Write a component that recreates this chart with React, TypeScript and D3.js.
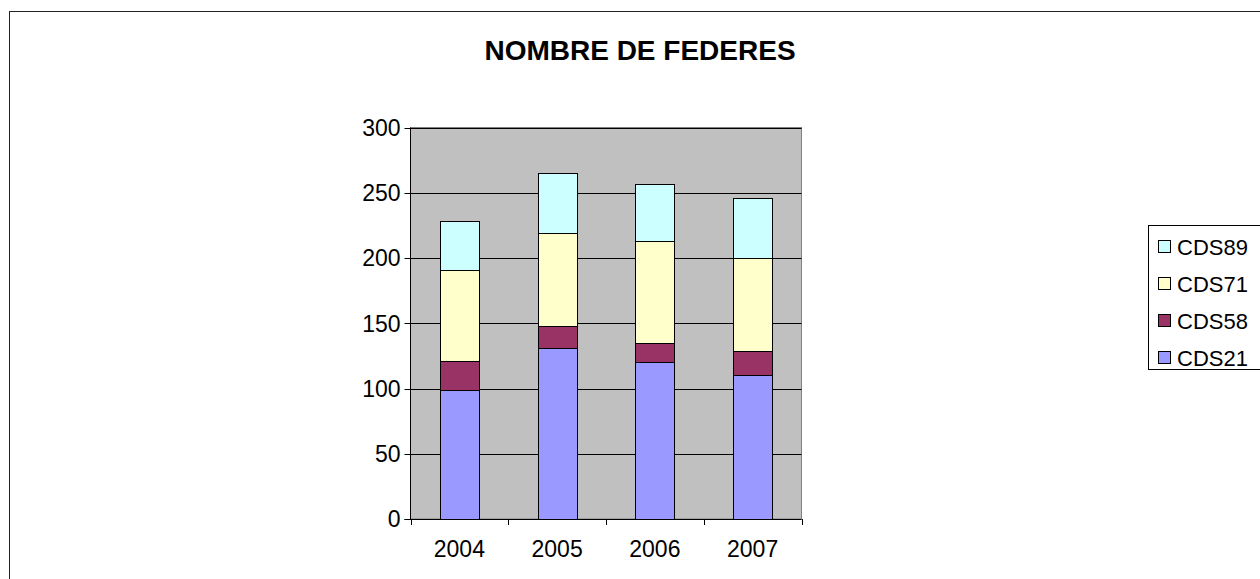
import React from "react";
import * as d3 from "d3";

const years = ["2004", "2005", "2006", "2007"];
const seriesNames = ["CDS21", "CDS58", "CDS71", "CDS89"];
const cds21 = [99, 131, 120, 110];
const cds58 = [22, 17, 15, 19];
const cds71 = [70, 71, 78, 71];
const cds89 = [37, 46, 44, 46];
const yTicks = [0, 50, 100, 150, 200, 250, 300];
const colors = ["#9999FF", "#993366", "#FFFFCC", "#CCFFFF"];
const title = "NOMBRE DE FEDERES";

export default function App() {
  const W = 1260, H = 579;
  const left = 410.5, right = 801.5, top = 127.5, bottom = 519;
  const font = "Arial, 'Liberation Sans', sans-serif";

  const rows = years.map((y, i) => ({
    year: y,
    CDS21: cds21[i],
    CDS58: cds58[i],
    CDS71: cds71[i],
    CDS89: cds89[i],
  }));
  const stack = d3.stack<any>().keys(seriesNames)(rows);

  const x = d3.scaleBand().domain(years).range([left, right]).paddingInner(0.6).paddingOuter(0.3);
  const xb = d3.scaleBand().domain(years).range([left, right]);
  const y = d3.scaleLinear().domain([0, 300]).range([bottom, top]);

  const legendOrder = [...seriesNames].reverse();

  return (
    <svg width={W} height={H} style={{ position: "absolute", left: 0, top: 0, background: "#fff" }}>
      <rect x={9.5} y={11.5} width={W} height={H} fill="#fff" stroke="#222" strokeWidth={1} />
      <text x={640} y={60} textAnchor="middle" fontFamily={font} fontWeight="bold" fontSize={28}>
        {title}
      </text>
      {/* plot area */}
      <rect x={left} y={top} width={right - left} height={bottom - top} fill="#C0C0C0" stroke="#808080" strokeWidth={1} />
      {yTicks.filter((t) => t > 0).map((t) => (
        <line key={t} x1={left} x2={right} y1={Math.round(y(t)) + 0.5} y2={Math.round(y(t)) + 0.5} stroke="#000" strokeWidth={1} />
      ))}
      {/* bars */}
      {stack.map((s, si) =>
        s.map((d, i) => (
          <rect
            key={si + "-" + i}
            x={Math.round(x(years[i])!) + 0.5}
            y={Math.round(y(d[1])) + 0.5}
            width={Math.round(x.bandwidth())}
            height={Math.round(y(d[0])) - Math.round(y(d[1]))}
            fill={colors[si]}
            stroke="#000"
            strokeWidth={1}
          />
        ))
      )}
      {/* axes */}
      <line x1={left} x2={left} y1={top} y2={bottom} stroke="#000" />
      <line x1={left - 6} x2={right} y1={bottom + 0.5} y2={bottom + 0.5} stroke="#000" />
      {yTicks.map((t) => (
        <g key={t}>
          <line x1={left - 6} x2={left} y1={Math.round(y(t)) + 0.5} y2={Math.round(y(t)) + 0.5} stroke="#000" />
          <text x={left - 10} y={y(t)} dy="0.36em" textAnchor="end" fontFamily={font} fontSize={23}>
            {t}
          </text>
        </g>
      ))}
      {[...years.map((yr) => xb(yr)!), right].map((v, i) => (
        <line key={i} x1={Math.round(v) + 0.5} x2={Math.round(v) + 0.5} y1={bottom} y2={bottom + 6} stroke="#000" />
      ))}
      {years.map((yr) => (
        <text key={yr} x={xb(yr)! + xb.bandwidth() / 2} y={557} textAnchor="middle" fontFamily={font} fontSize={23}>
          {yr}
        </text>
      ))}
      {/* legend */}
      <rect x={1148.5} y={225.5} width={130} height={144} fill="#fff" stroke="#000" />
      {legendOrder.map((name, i) => {
        const cy = 247 + i * 37;
        const ci = seriesNames.indexOf(name);
        return (
          <g key={name}>
            <rect x={1158.5} y={cy - 6.5} width={12} height={12} fill={colors[ci]} stroke="#000" />
            <text x={1177} y={cy} dy="0.36em" fontFamily={font} fontSize={22}>
              {name}
            </text>
          </g>
        );
      })}
    </svg>
  );
}
